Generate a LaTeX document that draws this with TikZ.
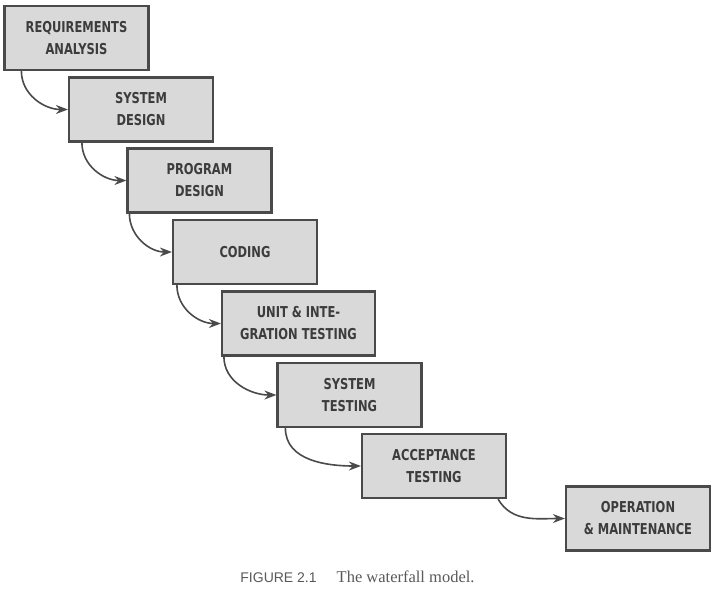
\documentclass[tikz,border=0pt]{standalone}
\usepackage{fontspec}
\setmainfont{Liberation Serif}
\newfontfamily\stagefont[FakeStretch=0.85]{DejaVu Sans Condensed}
\newfontfamily\capsans{Liberation Sans}
\usepackage{tikz}
\usetikzlibrary{calc}
\usetikzlibrary{arrows.meta}
\definecolor{boxfill}{HTML}{D9D9D9}
\definecolor{boxline}{HTML}{4A4A4A}
\definecolor{inktext}{HTML}{3C3C3C}

\begin{document}
\begin{tikzpicture}[x=1pt,y=1pt,
    stage/.style={draw=boxline, line width=2.2pt, fill=boxfill, text=inktext,
      minimum width=144pt, minimum height=64pt, align=center,
      font=\stagefont\bfseries\fontsize{15}{22}\selectfont},
    flow/.style={draw=boxline, line width=1.6pt, -{Stealth[length=12pt,width=9pt]}}]
                 \useasboundingbox (0,0) rectangle (719,-591);
                 \node[stage] (req) at (76.5,-38) {REQUIREMENTS\\ANALYSIS};
                 \node[stage] (sysd) at (141,-109.5) {SYSTEM\\DESIGN};
                 \node[stage] (prog) at (199.5,-180.5) {PROGRAM\\DESIGN};
                 \node[stage] (cod) at (245,-252) {CODING};
                 \node[stage, minimum width=153pt] (unit) at (298.5,-323.5) {UNIT \& INTE-\\GRATION TESTING};
                 \node[stage] (syst) at (349.5,-395) {SYSTEM\\TESTING};
                 \node[stage] (acc) at (434,-466) {ACCEPTANCE\\TESTING};
                 \node[stage] (oper) at (638,-518.5) {OPERATION\\\& MAINTENANCE};
                 \draw[flow] ($(req.south west)+(18,0)$) to[out=-90,in=180] (sysd.west);
                 \draw[flow] ($(sysd.south west)+(14,0)$) to[out=-90,in=180] (prog.west);
                 \draw[flow] ($(prog.south west)+(3,0)$) to[out=-90,in=180] (cod.west);
                 \draw[flow] ($(cod.south west)+(5,0)$) to[out=-90,in=180] (unit.west);
                 \draw[flow] ($(unit.south west)+(3,0)$) to[out=-90,in=180] (syst.west);
                 \draw[flow] ($(syst.south west)+(9,0)$) to[out=-90,in=180] (acc.west);
                 \draw[flow] ($(acc.south east)+(-9,0)$) to[out=-60,in=180] (oper.west);
                 \node[text=inktext!85] (cap) at (357.5,-577)
                   {{\capsans\fontsize{14}{16}\selectfont FIGURE 2.1}\hspace{20pt}{\fontsize{16.5}{18}\selectfont The waterfall model.}};
            \end{tikzpicture}
\end{document}
